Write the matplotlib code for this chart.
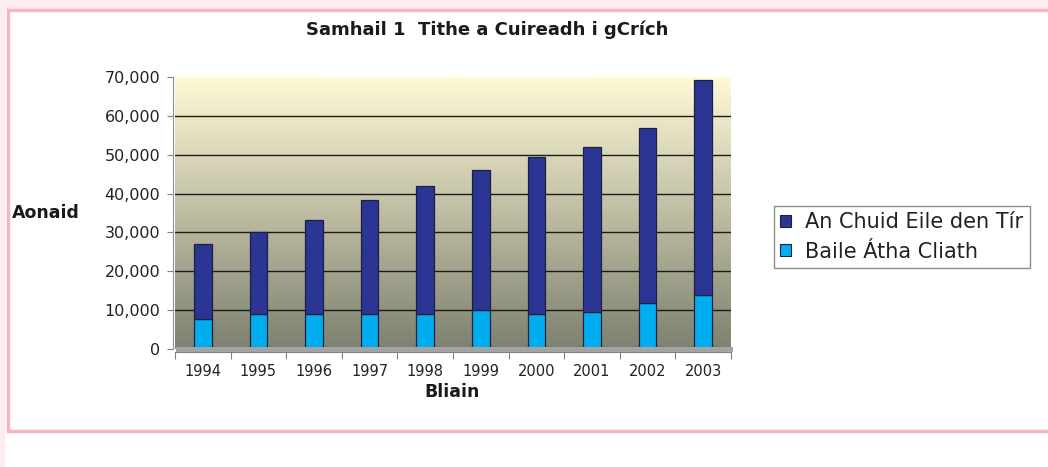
import numpy as np
import matplotlib
matplotlib.use("Agg")
import matplotlib.pyplot as plt
from matplotlib.patches import Rectangle, Patch
from matplotlib.ticker import FuncFormatter, MultipleLocator, FixedLocator
from matplotlib.colors import LinearSegmentedColormap

years = ["1994", "1995", "1996", "1997", "1998", "1999", "2000", "2001", "2002", "2003"]
dublin = [7800, 9000, 9000, 9000, 9000, 10000, 8900, 9500, 11900, 13800]
rest_of_country = [19200, 21200, 24100, 29300, 32900, 36000, 40500, 42600, 44950, 55300]
series_names = ["An Chuid Eile den Tír", "Baile Átha Cliath"]
title = "Samhail 1  Tithe a Cuireadh i gCrích"
xlabel = "Bliain"
ylabel = "Aonaid"

W, H = 1048, 467
plt.rcParams['font.family'] = ['DejaVu Sans']
fig = plt.figure(figsize=(W / 100, H / 100), dpi=100)
fig.patch.set_facecolor("white")

def fx(px):
    return px / W

def fy(py):
    return 1 - py / H

# page decoration
fig.patches.append(Rectangle((0, fy(9)), 1, 1 - fy(9), transform=fig.transFigure,
                             facecolor="#FDEDED", edgecolor="none", zorder=-5))
fig.patches.append(Rectangle((0, 0), fx(5), 1, transform=fig.transFigure,
                             facecolor="#FDEDED", edgecolor="none", zorder=-5))
fig.patches.append(Rectangle((fx(8), fy(431)), fx(1100), fy(10) - fy(431),
                             transform=fig.transFigure, facecolor="white",
                             edgecolor="#F7B7BD", linewidth=2.5, zorder=-4))

ax = fig.add_axes([fx(175), fy(349), fx(731) - fx(175), fy(77) - fy(349)])
ax.set_xlim(-0.5, len(years) - 0.5)
ax.set_ylim(0, 70000)

# gradient background
cmap = LinearSegmentedColormap.from_list("bg", ["#7E8170", "#FFF9D6"])
grad = np.linspace(0, 1, 256).reshape(-1, 1)
ax.imshow(grad, extent=[-0.5, len(years) - 0.5, 0, 70000], origin="lower",
          aspect="auto", cmap=cmap, zorder=0)

# floor band
fig.patches.append(Rectangle((fx(176), fy(352)), fx(733) - fx(176), fy(347) - fy(352),
                             transform=fig.transFigure, facecolor="#A3A3A3",
                             edgecolor="none", zorder=1))

x = np.arange(len(years))
bw = 0.32
dark = "#2B3594"
light = "#00AEEF"
ax.bar(x, dublin, bw, color=light, edgecolor="#1B2040", linewidth=0.9, zorder=3)
ax.bar(x, rest_of_country, bw, bottom=dublin, color=dark, edgecolor="#1B2040",
       linewidth=0.9, zorder=3)

# gridlines
ax.yaxis.set_major_locator(MultipleLocator(10000))
for v in range(10000, 70000, 10000):
    ax.axhline(v, color="#1a1a1a", linewidth=1.0, zorder=2)

ax.yaxis.set_major_formatter(FuncFormatter(lambda v, p: f"{int(v):,}"))
ax.tick_params(axis="y", length=4, width=0.8, color="#808080", pad=5,
               labelsize=11.5, labelcolor="#222222")

ax.set_xticks(x)
ax.set_xticklabels(years)
ax.xaxis.set_minor_locator(FixedLocator(np.arange(-0.5, len(years), 1.0)))
ax.tick_params(axis="x", which="major", length=0, pad=8, labelsize=10.5,
               labelcolor="#222222")
ax.tick_params(axis="x", which="minor", length=5, width=0.8, color="#808080")

for s in ["top", "right"]:
    ax.spines[s].set_visible(False)
ax.spines["bottom"].set_position(("outward", 2.5))
ax.spines["bottom"].set_color("#808080")
ax.spines["left"].set_position(("outward", 1.5))
ax.spines["left"].set_color("#909090")

fig.text(fx(487), fy(30), title, ha="center", va="center", fontsize=13,
         fontweight="bold", color="#1a1a1a")
fig.text(fx(12), fy(213), ylabel, ha="left", va="center", fontsize=12.5,
         fontweight="bold", color="#1a1a1a")
fig.text(fx(452), fy(392), xlabel, ha="center", va="center", fontsize=12.5,
         fontweight="bold", color="#1a1a1a")

handles = [Patch(facecolor=dark, edgecolor="#1B2040", linewidth=0.8),
           Patch(facecolor=light, edgecolor="#1B2040", linewidth=0.8)]
leg = fig.legend(handles, series_names, loc="upper left",
                 bbox_to_anchor=(fx(774), fy(206)), fontsize=15,
                 frameon=True, fancybox=False, shadow=False,
                 handlelength=0.5, handleheight=0.5, handletextpad=0.7,
                 borderpad=0.3, labelspacing=0.45, borderaxespad=0)
leg.get_frame().set_edgecolor("#707070")
leg.get_frame().set_linewidth(1.0)
for t in leg.get_texts():
    t.set_color("#222222")

fig.savefig("out.png", dpi=100)
